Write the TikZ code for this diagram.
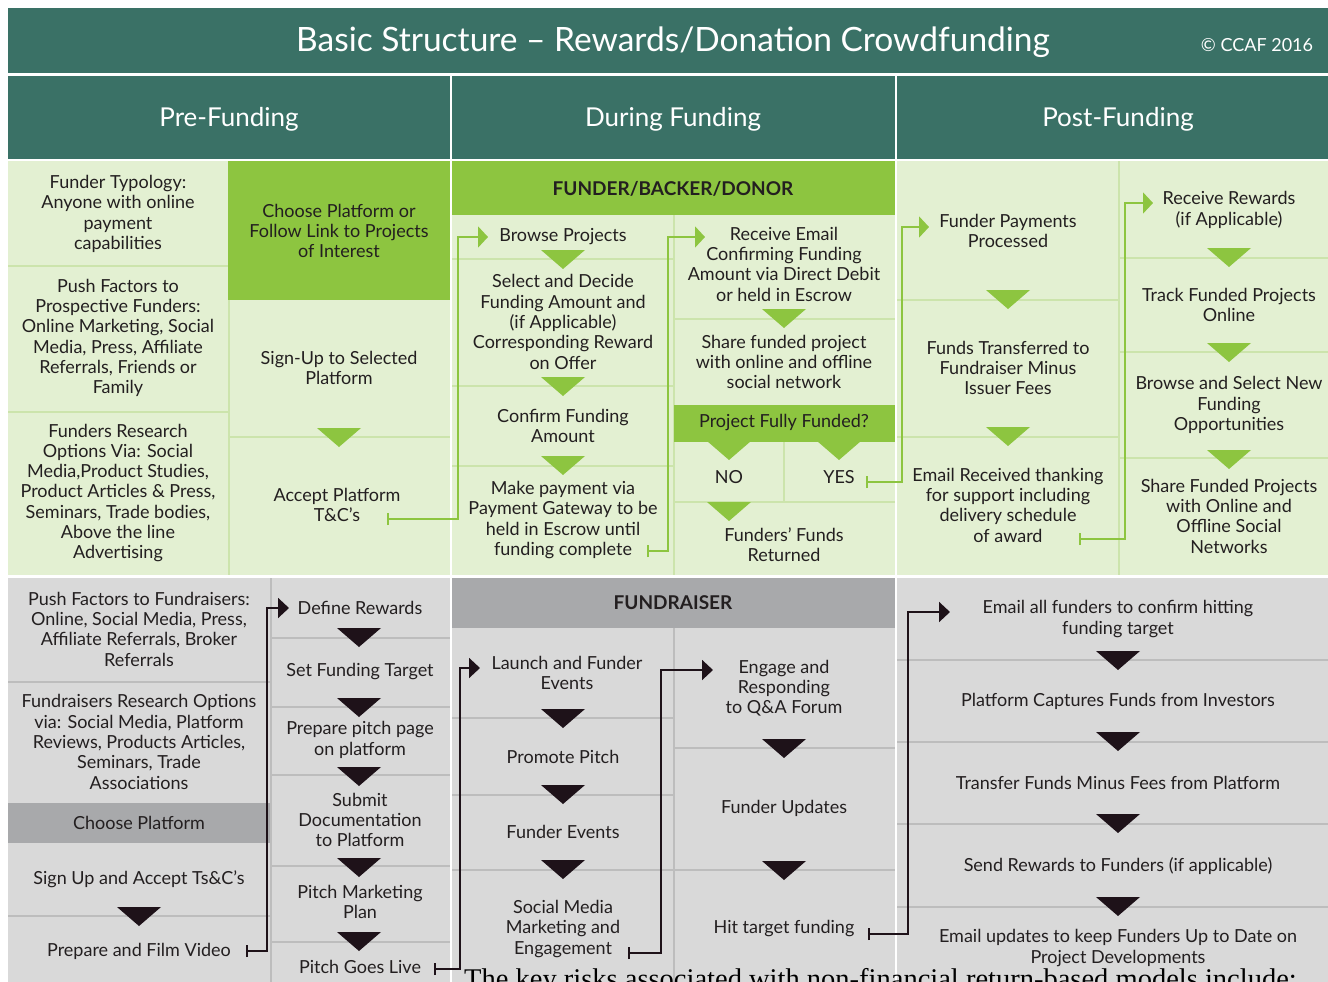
\documentclass[tikz,border=0pt]{standalone}
\usepackage{fontspec}
\setmainfont{Lato}
\newfontfamily\riskfont{Liberation Serif}
\usetikzlibrary{arrows.meta}

\definecolor{ccafteal}{HTML}{3A7166}
\definecolor{gLight}{HTML}{E3F0D2}
\definecolor{gBright}{HTML}{8DC540}
\definecolor{gSep}{HTML}{CCE4AC}
\definecolor{yLight}{HTML}{D9D9D9}
\definecolor{yDark}{HTML}{A8A9AB}
\definecolor{ySep}{HTML}{BDBDBD}
\definecolor{ink}{HTML}{231F20}
\definecolor{flowDark}{HTML}{1E1219}

\newcommand\txtsize{\fontsize{18}{20.3}\selectfont}
% down pointing triangle: colour, x, top y
\newcommand\downtri[3]{\fill[#1] ({#2-22},#3) -- ({#2+22},#3) -- (#2,{#3+19}) -- cycle;}

\tikzset{
  lbl/.style={align=center, text=ink, font=\txtsize, inner sep=0pt},
  hdr/.style={lbl, font=\fontsize{19}{22}\selectfont\bfseries},
  phase/.style={align=center, text=white, font=\fontsize{26}{30}\selectfont, inner sep=0pt},
  gsep/.style={gSep, line width=2pt},
  ysep/.style={ySep, line width=2pt},
  gflow/.style={draw=gBright, line width=2pt,
    {Bar[width=12pt,line width=2pt]}-{Triangle[width=21pt,length=10pt]}},
  dflow/.style={draw=flowDark, line width=2pt,
    {Bar[width=12pt,line width=2pt]}-{Triangle[width=20pt,length=11pt]}}
}

\begin{document}
\begin{tikzpicture}[x=1pt,y=-1pt]
\useasboundingbox (0,0) rectangle (1328,982);
\clip (0,0) rectangle (1328,982);

\def\UPPERFILL{gLight}
\def\LOWERFILL{yLight}
\def\UPARROW{gBright}
\def\LOARROW{flowDark}

% title and phase bands
	\fill[ccafteal] (8,8) rectangle (1328,159);
	\fill[\UPPERFILL] (8,161) rectangle (1328,575);
	\fill[\LOWERFILL] (8,578) rectangle (1328,982);

% funder part: separators
	\draw[gsep] (8,266) -- (228,266);
	\draw[gsep] (8,412) -- (228,412);
	\draw[gsep] (229,300) -- (229,575);
	\draw[gsep] (228,437) -- (450,437);
	\draw[gsep] (452,259) -- (673,259);
	\draw[gsep] (452,386) -- (673,386);
	\draw[gsep] (452,466) -- (673,466);
	\draw[gsep] (673.5,215) -- (673.5,575);
	\draw[gsep] (674,319) -- (895,319);
	\draw[gsep] (674,502) -- (895,502);
	\draw[gsep] (784,442) -- (784,502);
	\draw[gsep] (897,300) -- (1118,300);
	\draw[gsep] (897,437) -- (1118,437);
	\draw[gsep] (1118.5,161) -- (1118.5,575);
	\draw[gsep] (1119,258) -- (1328,258);
	\draw[gsep] (1119,352) -- (1328,352);
	\draw[gsep] (1119,458) -- (1328,458);
	\fill[gBright] (228,161) rectangle (450,300);
	\fill[gBright] (452,161) rectangle (895,215);
	\fill[gBright] (674,405) rectangle (895,442);

% fundraiser part: separators
	\draw[ysep] (8,682) -- (270,682);
	\draw[ysep] (8,916) -- (270,916);
	\draw[ysep] (271,578) -- (271,982);
	\draw[ysep] (271,638) -- (450,638);
	\draw[ysep] (271,707) -- (450,707);
	\draw[ysep] (271,775) -- (450,775);
	\draw[ysep] (271,866) -- (450,866);
	\draw[ysep] (271,942) -- (450,942);
	\draw[ysep] (452,718) -- (673,718);
	\draw[ysep] (452,795) -- (673,795);
	\draw[ysep] (452,870) -- (673,870);
	\draw[ysep] (674,628) -- (674,982);
	\draw[ysep] (674,748) -- (895,748);
	\draw[ysep] (674,870) -- (895,870);
	\draw[ysep] (897,660) -- (1328,660);
	\draw[ysep] (897,742) -- (1328,742);
	\draw[ysep] (897,824) -- (1328,824);
	\draw[ysep] (897,907) -- (1328,907);
	\fill[yDark] (8,803) rectangle (270,843);
	\fill[yDark] (452,578) rectangle (895,628);

% white gaps
	\draw[white, line width=2.5pt] (8,74.5) -- (1328,74.5);
	\draw[white, line width=2pt] (8,576.5) -- (1328,576.5);
	\draw[white, line width=2pt] (451,75) -- (451,982);
	\draw[white, line width=2pt] (896,75) -- (896,982);

% headings
\node[phase, font=\fontsize{33.5}{36}\selectfont] (title) at (673,42) {Basic Structure – Rewards/Donation Crowdfunding};
\node[phase, font=\fontsize{18}{20}\selectfont] (ccaf) at (1257,45) {© CCAF 2016};
\node[phase] (pre) at (229,119) {Pre-Funding};
\node[phase] (during) at (673,119) {During Funding};
\node[phase] (post) at (1118,119) {Post-Funding};
\node[hdr] (funder) at (673,189) {FUNDER/BACKER/DONOR};
\node[hdr] (raiser) at (673,603) {FUNDRAISER};

% funder steps
\node[lbl] (ft) at (118,214) {Funder Typology:\\Anyone with online\\payment\\capabilities};
\node[lbl] (pf) at (118,338) {Push Factors to\\Prospective Funders:\\Online Marketing, Social\\Media, Press, Affiliate\\Referrals, Friends or\\Family};
\node[lbl] (fr) at (118,493) {Funders Research\\Options Via: Social\\Media,Product Studies,\\Product Articles \& Press,\\Seminars, Trade bodies,\\Above the line\\Advertising};
\node[lbl] (cp) at (339,231) {Choose Platform or\\Follow Link to Projects\\of Interest};
\node[lbl] (su) at (339,368) {Sign-Up to Selected\\Platform};
\node[lbl] (ap) at (337,505) {Accept Platform\\T\&C’s};
\node[lbl] (bp) at (563,237) {Browse Projects};
\node[lbl] (sd) at (563,322) {Select and Decide\\Funding Amount and\\(if Applicable)\\Corresponding Reward\\on Offer};
\node[lbl] (cf) at (563,426) {Confirm Funding\\Amount};
\node[lbl] (mp) at (563,520) {Make payment via\\Payment Gateway to be\\held in Escrow until\\funding complete};
\node[lbl] (re) at (784,264) {Receive Email\\Confirming Funding\\Amount via Direct Debit\\or held in Escrow};
\node[lbl] (sf) at (784,362) {Share funded project\\with online and offline\\social network};
\node[lbl] (pff) at (784,423) {Project Fully Funded?};
\node[lbl] (no) at (729,477) {NO};
\node[lbl] (yes) at (839,477) {YES};
\node[lbl] (ffr) at (784,545) {Funders’ Funds\\Returned};
\node[lbl] (fpp) at (1008,231) {Funder Payments\\Processed};
\node[lbl] (ftr) at (1008,368) {Funds Transferred to\\Fundraiser Minus\\Issuer Fees};
\node[lbl] (erc) at (1008,505) {Email Received thanking\\for support including\\delivery schedule\\of award};
\node[lbl] (rr) at (1229,210) {Receive Rewards\\(if Applicable)};
\node[lbl] (tf) at (1229,305) {Track Funded Projects\\Online};
\node[lbl] (bs) at (1229,405) {Browse and Select New\\Funding\\Opportunities};
\node[lbl] (sfp) at (1229,516) {Share Funded Projects\\with Online and\\Offline Social\\Networks};

% fundraiser steps
\node[lbl] (pfr) at (139,629) {Push Factors to Fundraisers:\\Online, Social Media, Press,\\Affiliate Referrals, Broker\\Referrals};
\node[lbl] (fro) at (139,742) {Fundraisers Research Options\\via: Social Media, Platform\\Reviews, Products Articles,\\Seminars, Trade\\Associations};
\node[lbl] (chp) at (139,823) {Choose Platform};
\node[lbl] (sua) at (139,879) {Sign Up and Accept Ts\&C’s};
\node[lbl] (pfv) at (139,951) {Prepare and Film Video};
\node[lbl] (dr) at (360,608) {Define Rewards};
\node[lbl] (sft) at (360,672) {Set Funding Target};
\node[lbl] (ppp) at (360,740) {Prepare pitch page\\on platform};
\node[lbl] (sdp) at (360,820) {Submit\\Documentation\\to Platform};
\node[lbl] (pmp) at (360,902) {Pitch Marketing\\Plan};
\node[lbl] (pgl) at (360,967) {Pitch Goes Live};
\node[lbl] (lfe) at (567,673) {Launch and Funder\\Events};
\node[lbl] (pp) at (563,757) {Promote Pitch};
\node[lbl] (fe) at (563,832) {Funder Events};
\node[lbl] (smm) at (563,929) {Social Media\\Marketing and\\Engagement};
\node[lbl] (eng) at (784,688) {Engage and\\Responding\\to Q\&A Forum};
\node[lbl] (fu) at (784,808) {Funder Updates};
\node[lbl] (htf) at (784,929) {Hit target funding};
\node[lbl] (eaf) at (1118,619) {Email all funders to confirm hitting\\funding target};
\node[lbl] (pcf) at (1118,701) {Platform Captures Funds from Investors};
\node[lbl] (tfm) at (1118,783) {Transfer Funds Minus Fees from Platform};
\node[lbl] (sr) at (1118,866) {Send Rewards to Funders (if applicable)};
\node[lbl] (eu) at (1118,948) {Email updates to keep Funders Up to Date on\\Project Developments};

% step triangles
	\downtri{\UPARROW}{339}{428}
	\downtri{\UPARROW}{563}{250}
	\downtri{\UPARROW}{563}{377}
	\downtri{\UPARROW}{563}{456}
	\downtri{\UPARROW}{784}{309}
	\downtri{\UPARROW}{729}{441}
	\downtri{\UPARROW}{839}{441}
	\downtri{\UPARROW}{729}{502}
	\downtri{\UPARROW}{1008}{290}
	\downtri{\UPARROW}{1008}{427}
	\downtri{\UPARROW}{1229}{248}
	\downtri{\UPARROW}{1229}{343}
	\downtri{\UPARROW}{1229}{450}
	\downtri{\LOARROW}{139}{907}
	\downtri{\LOARROW}{359}{628}
	\downtri{\LOARROW}{359}{698}
	\downtri{\LOARROW}{359}{767}
	\downtri{\LOARROW}{359}{858}
	\downtri{\LOARROW}{359}{932}
	\downtri{\LOARROW}{563}{709}
	\downtri{\LOARROW}{563}{785}
	\downtri{\LOARROW}{563}{860}
	\downtri{\LOARROW}{784}{739}
	\downtri{\LOARROW}{784}{861}
	\downtri{\LOARROW}{1118}{651}
	\downtri{\LOARROW}{1118}{732}
	\downtri{\LOARROW}{1118}{814}
	\downtri{\LOARROW}{1118}{897}

% connector ends
\coordinate (apT) at (387,519);   \coordinate (bpH) at (488,237);
\coordinate (mpT) at (647,551);   \coordinate (reH) at (705,237);
\coordinate (yesT) at (866,482);  \coordinate (fppH) at (929,227);
\coordinate (ercT) at (1079,539); \coordinate (rrH) at (1153,203);
\coordinate (pfvT) at (246,951);  \coordinate (drH) at (289,608);
\coordinate (pglT) at (434,969);  \coordinate (lfeH) at (480,668);
\coordinate (smmT) at (628,953);  \coordinate (engH) at (713,670);
\coordinate (htfT) at (868,934);  \coordinate (eafH) at (950,612);

\draw[gflow] (apT) -| (458,237) -- (bpH);
\draw[gflow] (mpT) -| (668,237) -- (reH);
\draw[gflow] (yesT) -| (902,227) -- (fppH);
\draw[gflow] (ercT) -| (1125,203) -- (rrH);
\draw[dflow] (pfvT) -| (267,608) -- (drH);
\draw[dflow] (pglT) -| (460,668) -- (lfeH);
\draw[dflow] (smmT) -| (661,670) -- (engH);
\draw[dflow] (htfT) -| (908,612) -- (eafH);

% text running in from below
\node[anchor=base west, inner sep=0pt, text=black, font=\riskfont\fontsize{28.5}{32}\selectfont] (risk) at (464,988) {The key risks associated with non-financial return-based models include:};

\end{tikzpicture}
\end{document}
